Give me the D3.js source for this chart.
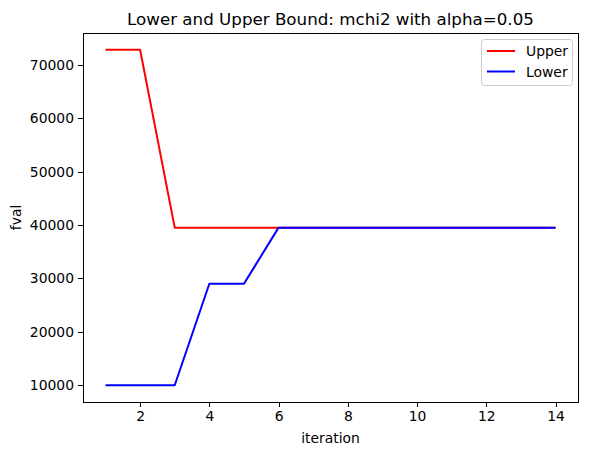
<!doctype html>
<html>
<head>
<meta charset="utf-8">
<title>Lower and Upper Bound</title>
<script src="https://cdn.jsdelivr.net/npm/d3@7"></script>
<style>
body { margin: 0; background: #fff; }
text { font-family: 'DejaVu Sans', sans-serif; fill: #000; }
.axis path, .axis line { stroke: #000; stroke-width: 1; shape-rendering: crispEdges; }
.axis text { font-size: 13.9px; }
</style>
</head>
<body>
<script>
// data
var iterations = [1, 2, 3, 4, 5, 6, 7, 8, 9, 10, 11, 12, 13, 14];
var upper = [72800, 72800, 39500, 39500, 39500, 39500, 39500, 39500, 39500, 39500, 39500, 39500, 39500, 39500];
var lower = [10000, 10000, 10000, 29000, 29000, 39500, 39500, 39500, 39500, 39500, 39500, 39500, 39500, 39500];
var xTicks = [2, 4, 6, 8, 10, 12, 14];
var yTicks = [10000, 20000, 30000, 40000, 50000, 60000, 70000];
var seriesNames = ['Upper', 'Lower'];
var seriesColors = ['red', 'blue'];

var W = 592, H = 455;
var margin = { top: 33, right: 14, bottom: 53, left: 83 };

var svg = d3.select('body').append('svg')
  .attr('width', W)
  .attr('height', H);

// matplotlib style 5% padding
var xPad = (d3.max(iterations) - d3.min(iterations)) * 0.05;
var allY = upper.concat(lower);
var yPad = (d3.max(allY) - d3.min(allY)) * 0.05;

var x = d3.scaleLinear()
  .domain([d3.min(iterations) - xPad, d3.max(iterations) + xPad])
  .range([margin.left, W - margin.right]);

var y = d3.scaleLinear()
  .domain([d3.min(allY) - yPad, d3.max(allY) + yPad])
  .range([H - margin.bottom, margin.top]);

var xAxis = d3.axisBottom(x).tickValues(xTicks).tickSize(5).tickPadding(4).tickFormat(d3.format('d'));
var yAxis = d3.axisLeft(y).tickValues(yTicks).tickSize(5).tickPadding(4).tickFormat(d3.format('d'));

svg.append('g')
  .attr('class', 'x axis')
  .attr('transform', 'translate(0,' + (H - margin.bottom) + ')')
  .call(xAxis)
  .call(function(g) { g.select('.domain').remove(); });

svg.append('g')
  .attr('class', 'y axis')
  .attr('transform', 'translate(' + margin.left + ',0)')
  .call(yAxis)
  .call(function(g) { g.select('.domain').remove(); });

// lines
var series = [upper, lower];
var line = d3.line()
  .x(function(d, i) { return x(iterations[i]); })
  .y(function(d) { return y(d); });

series.forEach(function(s, k) {
  svg.append('path')
    .datum(s)
    .attr('fill', 'none')
    .attr('stroke', seriesColors[k])
    .attr('stroke-width', 2)
    .attr('stroke-linejoin', 'round')
    .attr('d', line);
});

// frame
svg.append('rect')
  .attr('x', margin.left + 0.5)
  .attr('y', margin.top + 0.5)
  .attr('width', W - margin.right - margin.left)
  .attr('height', H - margin.bottom - margin.top)
  .attr('fill', 'none')
  .attr('stroke', '#000')
  .attr('stroke-width', 1);

// titles
svg.append('text')
  .attr('x', (margin.left + W - margin.right) / 2)
  .attr('y', margin.top - 8)
  .attr('text-anchor', 'middle')
  .style('font-size', '16.7px')
  .text('Lower and Upper Bound: mchi2 with alpha=0.05');

svg.append('text')
  .attr('x', (margin.left + W - margin.right) / 2)
  .attr('y', H - 12)
  .attr('text-anchor', 'middle')
  .style('font-size', '13.9px')
  .text('iteration');

svg.append('text')
  .attr('transform', 'translate(21,' + ((margin.top + H - margin.bottom) / 2) + ') rotate(-90)')
  .attr('text-anchor', 'middle')
  .style('font-size', '13.9px')
  .text('fval');

// legend
var lg = svg.append('g').attr('transform', 'translate(481,39)');
lg.append('rect')
  .attr('x', 0.5).attr('y', 0.5)
  .attr('width', 91).attr('height', 46)
  .attr('rx', 3)
  .attr('fill', '#fff')
  .attr('fill-opacity', 0.8)
  .attr('stroke', '#ccc');

seriesNames.forEach(function(n, k) {
  var yy = 12 + k * 20.5;
  lg.append('line')
    .attr('x1', 6).attr('x2', 34)
    .attr('y1', yy).attr('y2', yy)
    .attr('stroke', seriesColors[k])
    .attr('stroke-width', 2);
  lg.append('text')
    .attr('x', 45).attr('y', yy + 5)
    .style('font-size', '13.9px')
    .text(n);
});
</script>
</body>
</html>
